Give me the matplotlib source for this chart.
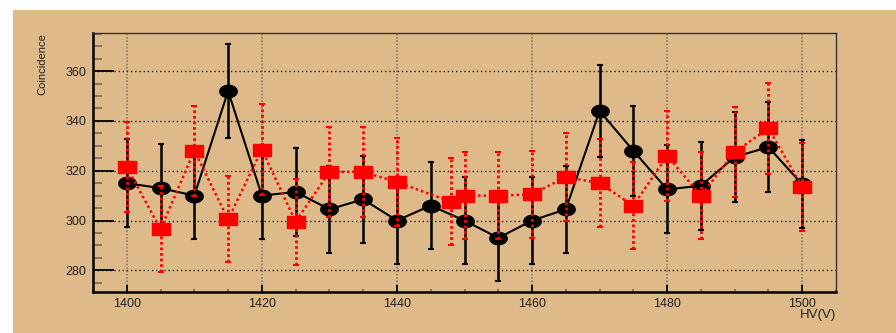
import numpy as np
import matplotlib
matplotlib.use("Agg")
import matplotlib.pyplot as plt
from matplotlib.path import Path
from matplotlib.patches import Rectangle
from matplotlib.ticker import MultipleLocator

# High-voltage scan: coincidence counts for two configurations
hv_black = [1400, 1405, 1410, 1415, 1420, 1425, 1430, 1435, 1440, 1445, 1450,
            1455, 1460, 1465, 1470, 1475, 1480, 1485, 1490, 1495, 1500]
counts_black = [315, 313, 310, 352, 310, 311.5, 304.5, 308.5, 300, 306, 300,
                293, 300, 304.5, 344, 328, 312.5, 314, 325.5, 329.5, 314.5]
err_black = [17.8, 17.7, 17.6, 18.8, 17.6, 17.7, 17.5, 17.6, 17.3, 17.5, 17.3,
             17.1, 17.3, 17.5, 18.5, 18.1, 17.7, 17.7, 18.0, 18.2, 17.7]

hv_red = [1400, 1405, 1410, 1415, 1420, 1425, 1430, 1435, 1440, 1448, 1450,
          1455, 1460, 1465, 1470, 1475, 1480, 1485, 1490, 1495, 1500]
counts_red = [321.5, 296.5, 328, 300.5, 328.5, 299.5, 319.5, 319.5, 315.5, 307.5, 310,
              310, 310.5, 317.5, 315, 306, 326, 310, 327.5, 337, 313.5]
err_red = [17.9, 17.2, 18.1, 17.3, 18.1, 17.3, 17.9, 17.9, 17.8, 17.5, 17.6,
           17.6, 17.6, 17.8, 17.7, 17.5, 18.1, 17.6, 18.1, 18.4, 17.7]

x_ticks = [1400, 1420, 1440, 1460, 1480, 1500]
y_ticks = [280, 300, 320, 340, 360]

TAN = "#DEB989"

# Wide ellipse and wide box markers
t = np.linspace(0, 2 * np.pi, 60)
ellipse = Path(np.column_stack([1.40 * np.cos(t), np.sin(t)]), closed=True)
box = Path([(-1.4, -1), (1.4, -1), (1.4, 1), (-1.4, 1), (-1.4, -1)], closed=True)

fig = plt.figure(figsize=(8.96, 3.33), dpi=100)
fig.patch.set_facecolor("white")
fig.patches.append(Rectangle((13 / 896, 0), 1 - 13 / 896, 1 - 10 / 333,
                             transform=fig.transFigure, facecolor=TAN,
                             edgecolor="none", zorder=-10))

ax = fig.add_axes([93 / 896, 41 / 333, (836 - 93) / 896, (292 - 33) / 333])
ax.set_facecolor(TAN)

ax.errorbar(hv_black, counts_black, yerr=err_black, color="black", lw=1.5,
            elinewidth=1.8, capsize=2, capthick=1.5, marker=ellipse, ms=12.5,
            mfc="black", mec="black", zorder=3)
eb = ax.errorbar(hv_red, counts_red, yerr=err_red, color="#FF0000", lw=1.8,
                 ls=(0, (1, 1.2)), elinewidth=2, capsize=2, capthick=1.5,
                 marker="none", zorder=4)
for col in eb[2]:
    col.set_linestyle((0, (1, 1)))
ax.plot(hv_red, counts_red, ls="none", marker=box, ms=12.8, mfc="#FF0000",
        mec="#FF0000", zorder=5)

ax.set_xlim(1395, 1505)
ax.set_ylim(271.3, 375.3)
ax.set_xticks(x_ticks)
ax.set_yticks(y_ticks)
ax.xaxis.set_minor_locator(MultipleLocator(5))
ax.yaxis.set_minor_locator(MultipleLocator(5))

ax.tick_params(axis="y", which="major", direction="in", length=15, width=1.3,
               color="black", pad=5, labelsize=9)
ax.tick_params(axis="y", which="minor", direction="in", length=6.5, width=1.2,
               color="#7d6a52")
ax.tick_params(axis="x", which="major", direction="in", length=5, width=1.3,
               color="black", pad=4, labelsize=9)
ax.tick_params(axis="x", which="minor", direction="in", length=2.5, width=1.2,
               color="#7d6a52")
for lab in ax.get_xticklabels() + ax.get_yticklabels():
    lab.set_fontfamily("Liberation Sans")
    lab.set_color("#222222")

ax.grid(True, axis="y", which="major", color="#222222", ls=(0, (1, 2)), lw=1)
ax.grid(True, axis="x", which="major", color="#8a7a66", ls=(0, (1, 1)), lw=1.2)
ax.set_axisbelow(True)

for side in ("left", "bottom"):
    ax.spines[side].set_linewidth(1.8)
    ax.spines[side].set_color("black")
for side in ("top", "right"):
    ax.spines[side].set_linewidth(1.0)
    ax.spines[side].set_color("#333333")

fig.text(42 / 896, 1 - 33 / 333, "Coincidence", rotation=90, ha="center",
         va="top", fontsize=8, family="Liberation Sans", color="#222222")
fig.text(836 / 896, 1 - 318 / 333, "HV(V)", ha="right", va="baseline",
         fontsize=9.5, family="Liberation Sans", color="#222222")

fig.savefig("out.png", dpi=100, facecolor="white")
